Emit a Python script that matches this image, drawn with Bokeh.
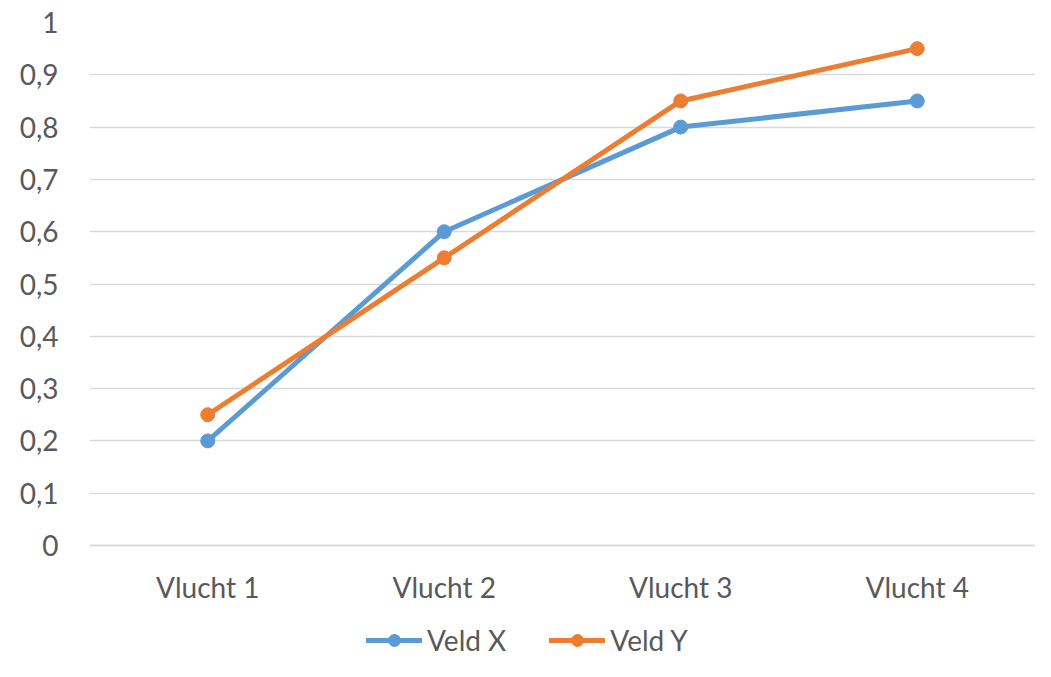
from bokeh.plotting import figure
from bokeh.models import (FactorRange, Range1d, FixedTicker, CustomJSTickFormatter,
                          Legend, LegendItem, ColumnDataSource)
from bokeh.embed import file_html
from bokeh.resources import INLINE

categories = ["Vlucht 1", "Vlucht 2", "Vlucht 3", "Vlucht 4"]
veld_x = [0.2, 0.6, 0.8, 0.85]
veld_y = [0.25, 0.55, 0.85, 0.95]
y_ticks = [0, 0.1, 0.2, 0.3, 0.4, 0.5, 0.6, 0.7, 0.8, 0.9, 1.0]
series_names = ["Veld X", "Veld Y"]
series_colors = ["#5B9BD5", "#ED7D31"]

FONT = "Lato"
TEXT_COLOR = "#595959"
GRID_COLOR = "#D9D9D9"

W, H = 1035, 661
TOP, LEFT = 22, 89
ZERO_Y = 545                       # pixel row of value 0
px_per_unit = ZERO_Y - TOP
y_start = -(H - ZERO_Y) / px_per_unit   # frame extends to bottom, room for labels + legend

p = figure(x_range=FactorRange(*categories, range_padding=0),
           y_range=Range1d(y_start, 1),
           width=W, height=H,
           output_backend="svg", toolbar_location=None,
           min_border_left=LEFT, min_border_right=0,
           min_border_top=TOP, min_border_bottom=0)

p.outline_line_color = None
p.background_fill_color = "white"
p.border_fill_color = "white"

# grid
p.xgrid.grid_line_color = None
p.ygrid.grid_line_color = GRID_COLOR
p.ygrid.grid_line_width = 1.5

# y axis
p.yaxis.ticker = FixedTicker(ticks=y_ticks)
p.yaxis.formatter = CustomJSTickFormatter(
    code="return (Math.round(tick*10)/10).toString().replace('.', ',');")
p.yaxis.axis_line_color = None
p.yaxis.major_tick_line_color = None
p.yaxis.minor_tick_line_color = None
p.yaxis.major_tick_out = 0
p.yaxis.major_tick_in = 0
p.yaxis.major_label_standoff = 31
p.yaxis.major_label_text_font = FONT
p.yaxis.major_label_text_font_size = "28px"
p.yaxis.major_label_text_color = TEXT_COLOR

# x axis drawn at value 0 inside the frame
p.xaxis.fixed_location = 0
p.xaxis.axis_line_color = GRID_COLOR
p.xaxis.axis_line_width = 1.5
p.xaxis.major_tick_line_color = None
p.xaxis.minor_tick_line_color = None
p.xaxis.major_tick_out = 0
p.xaxis.major_tick_in = 0
p.xaxis.major_label_standoff = 24
p.xaxis.major_label_text_font = FONT
p.xaxis.major_label_text_font_size = "28px"
p.xaxis.major_label_text_color = TEXT_COLOR

items = []
for name, vals, color in zip(series_names, [veld_x, veld_y], series_colors):
    src = ColumnDataSource(dict(x=categories, y=vals))
    l = p.line("x", "y", source=src, line_color=color, line_width=5,
               line_join="round", line_cap="round")
    s = p.scatter("x", "y", source=src, size=14, fill_color=color,
                  line_color=color, marker="circle")
    items.append(LegendItem(label=name, renderers=[l, s]))

legend = Legend(items=items, orientation="horizontal",
                location=(277, 4),
                glyph_width=56, glyph_height=30, label_height=30,
                label_standoff=5, spacing=43, padding=0, margin=0,
                border_line_color=None, background_fill_alpha=0,
                label_text_font=FONT, label_text_font_size="28px",
                label_text_color=TEXT_COLOR)
p.add_layout(legend, "center")

open("out.html", "w").write(file_html(p, INLINE))
